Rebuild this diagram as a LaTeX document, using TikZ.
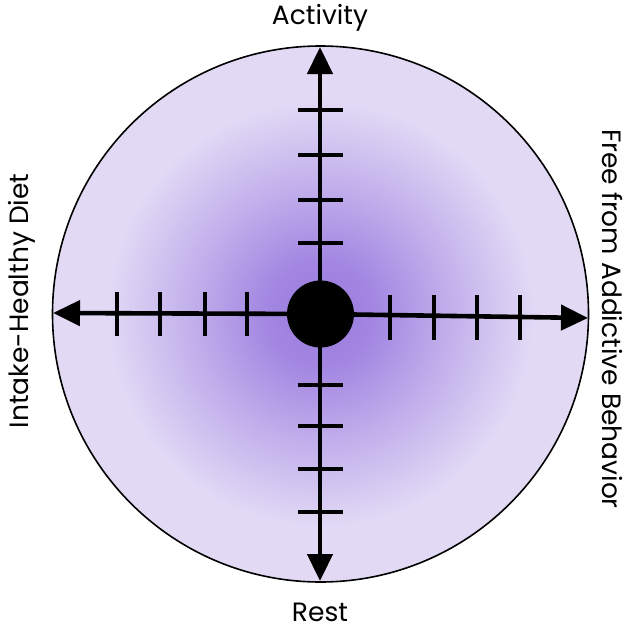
\documentclass[tikz,border=0pt]{standalone}
\usepackage{fontspec}
\setmainfont{Poppins}
\usetikzlibrary{arrows.meta}
\definecolor{cin}{HTML}{9A7BDF}
\definecolor{cout}{HTML}{E2DAF5}
\pgfdeclareradialshading{purplerad}{\pgfpoint{0bp}{0bp}}{color(0bp)=(cin); color(5bp)=(cin!88!cout); color(12bp)=(cin!45!cout); color(20bp)=(cout); color(25bp)=(cout); color(50bp)=(cout)}
\tikzset{
  axis/.style={line width=4.6pt, -{Triangle[length=27pt,width=25pt]}},
  tick/.style={line width=4.4pt},
  lbl/.style={font=\fontsize{26.5}{26.5}\selectfont, inner sep=0pt}
}
\begin{document}
\begin{tikzpicture}[x=1pt,y=-1pt]
\useasboundingbox (0,0) rectangle (627,629);
\node[circle, minimum size=536pt, inner sep=0pt, draw=black, line width=1.6pt, shading=purplerad] (disc) at (320.5,314) {};
\coordinate (c) at (320,314);
\coordinate (top) at (320,47);
\coordinate (bot) at (320,581);
\coordinate (lft) at (53,313);
\coordinate (rgt) at (588,318);
\draw[axis] (c) -- (top);
\draw[axis] (c) -- (bot);
\draw[axis] (c) -- (lft);
\draw[axis] (c) -- (rgt);
\foreach \y in {110,155,200,243,385,426,469,512}
  \draw[tick] (298,\y) -- (343,\y);
\foreach \x in {117,160,205,247}
  \draw[tick] (\x,292) -- (\x,336);
\foreach \x in {390,434,477,520}
  \draw[tick] (\x,295) -- (\x,340);
\node[circle, fill=black, minimum size=67pt, inner sep=0pt] (dot) at (320.5,314) {};
\node[lbl] (act) at (320,18) {Activity};
\node[lbl] (rest) at (320,612) {Rest};
\node[lbl, rotate=90] (diet) at (22,301) {Intake-Healthy Diet};
\node[lbl, rotate=-90] (free) at (612,319) {Free from Addictive Behavior};
\end{tikzpicture}
\end{document}
